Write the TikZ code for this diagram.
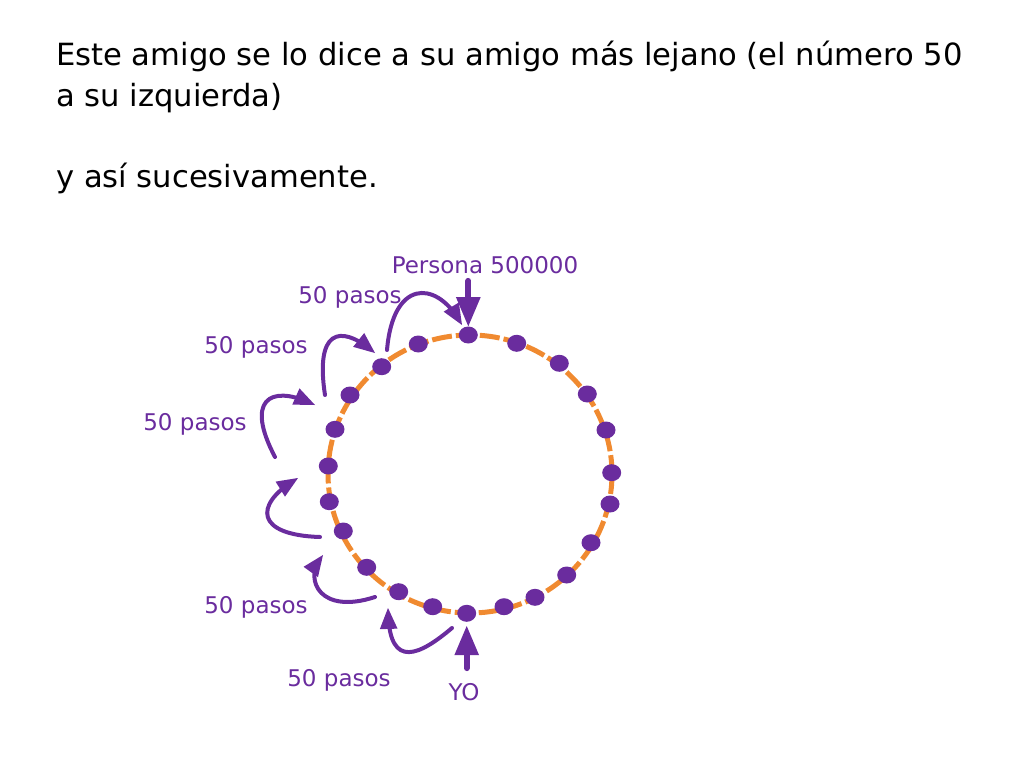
\documentclass[tikz,border=0pt]{standalone}
\usepackage{fontspec}
\setmainfont{DejaVu Sans}
\usetikzlibrary{arrows,shapes.geometric}
\definecolor{morado}{RGB}{106,44,158}
\definecolor{naranja}{RGB}{240,138,48}

\begin{document}
\begin{tikzpicture}[line cap=round,line join=round,>=triangle 45,x=1pt,y=-1pt,
	punto/.style={ellipse,fill=morado,inner sep=0pt,minimum width=19pt,minimum height=17pt},
	salto/.style={->,draw=morado,line width=4pt},
	flecha/.style={->,draw=morado,line width=6pt},
	etiqueta/.style={text=morado,inner sep=1pt,font=\fontsize{23}{27}\selectfont},
	titulo/.style={anchor=base west,inner sep=0pt,font=\fontsize{30.6}{36}\selectfont}]
	\useasboundingbox (0,0) rectangle (1024,768);
	% texto
	\node[titulo] (linea1) at (56,65) {Este amigo se lo dice a su amigo más lejano (el número 50};
	\node[titulo] (linea2) at (56,106) {a su izquierda)};
	\node[titulo] (linea3) at (56,187) {y así sucesivamente.};
	% circulo de amigos
	\draw [naranja,line width=5pt,line cap=butt,dash pattern=on 20pt off 4pt] (470,474) ellipse [x radius=142,y radius=139];
	\foreach \px/\py [count=\i] in {468.3/335,516.7/343.3,559.3/363.3,587.3/394,606/430,611.7/472.7,
		610/504,591/542.7,566.7/575,535/597.3,504/606.7,466.7/613.3,432.7/606.7,398.7/591.7,
		366.7/567.3,343.3/531,329.3/501.7,328.3/466,335/429.3,350/395,381.7/366.7,418.3/344}
		\node[punto] (p\i) at (\px,\py) {};
	% etiquetas
	\node[etiqueta] (persona) at (485,265) {Persona 500000};
	\node[etiqueta] (pasos1) at (350,297) {50 pasos};
	\node[etiqueta] (pasos2) at (256,347) {50 pasos};
	\node[etiqueta] (pasos3) at (195,424) {50 pasos};
	\node[etiqueta] (pasos4) at (256,607) {50 pasos};
	\node[etiqueta] (pasos5) at (339,680) {50 pasos};
	\node[etiqueta] (yo) at (464,692) {YO};
	% extremos de los saltos
	\coordinate (ini1) at (387,350); \coordinate (fin1) at (462,325);
	\coordinate (ini2) at (325,395); \coordinate (fin2) at (375,353);
	\coordinate (ini3) at (275,457); \coordinate (fin3) at (315,405);
	\coordinate (ini4) at (320,537); \coordinate (fin4) at (298,478);
	\coordinate (ini5) at (375,597); \coordinate (fin5) at (323,555);
	\coordinate (ini6) at (452,628); \coordinate (fin6) at (388,608);
	% flechas
	\draw[flecha,shorten <=6pt] (p1 |- persona.south) -- (p1);
	\draw[flecha,shorten <=14pt,shorten >=4pt] (p12 |- yo.north) -- (p12);
	\draw[salto] (ini1) .. controls (393,280) and (435,280) .. (fin1);
	\draw[salto] (ini2) .. controls (315,330) and (340,325) .. (fin2);
	\draw[salto] (ini3) .. controls (245,400) and (270,385) .. (fin3);
	\draw[salto] (ini4) .. controls (255,535) and (255,505) .. (fin4);
	\draw[salto] (ini5) .. controls (320,615) and (305,580) .. (fin5);
	\draw[salto] (ini6) .. controls (420,655) and (390,670) .. (fin6);
\end{tikzpicture}
\end{document}
